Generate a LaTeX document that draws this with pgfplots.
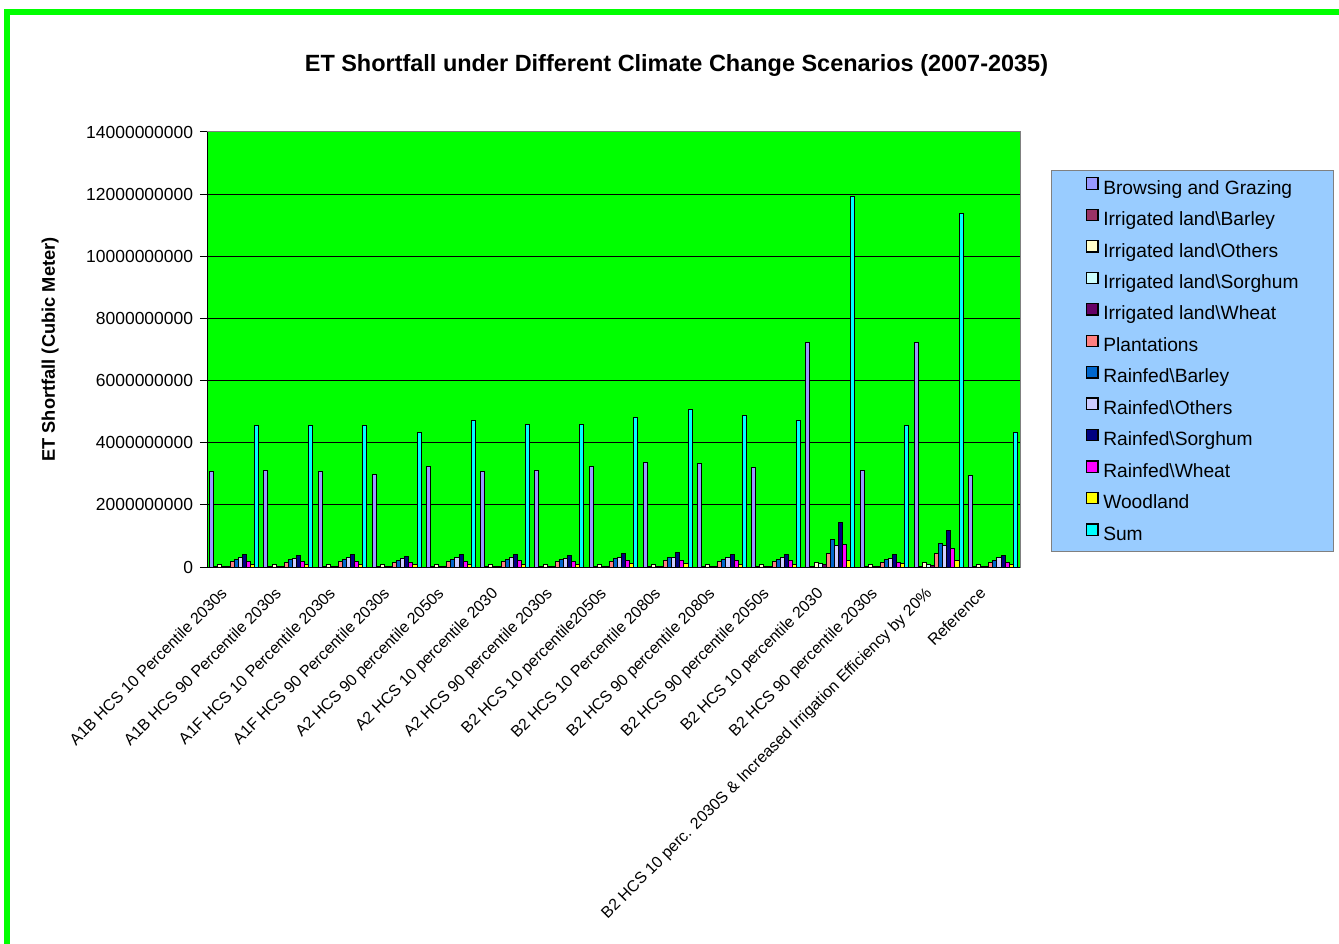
\documentclass[border=0pt]{standalone}
\usepackage{pgfplots}
\pgfplotsset{compat=1.18}
\usepackage{pgfplotstable}
\usepackage{fontspec}
\setmainfont{Liberation Sans}

\definecolor{cBG}{HTML}{9999FF}
\definecolor{cIB}{HTML}{993366}
\definecolor{cIO}{HTML}{FFFFCC}
\definecolor{cIS}{HTML}{CCFFFF}
\definecolor{cIW}{HTML}{660066}
\definecolor{cPL}{HTML}{FF8080}
\definecolor{cRB}{HTML}{0066CC}
\definecolor{cRO}{HTML}{CCCCFF}
\definecolor{cRS}{HTML}{000080}
\definecolor{cRW}{HTML}{FF00FF}
\definecolor{cWL}{HTML}{FFFF00}
\definecolor{cSU}{HTML}{00FFFF}
\definecolor{plotgreen}{HTML}{00FF00}
\definecolor{legblue}{HTML}{99CCFF}

% values in cubic metres
\pgfplotstableread{
x  BG      IB     IO      IS     IW     PL      RB      RO      RS      RW      WL      SU
0  3.07e9  0.02e9 0.07e9  0.01e9 0.01e9 0.18e9  0.24e9  0.29e9  0.39e9  0.19e9  0.09e9  4.56e9
1  3.12e9  0.02e9 0.07e9  0.01e9 0.01e9 0.16e9  0.24e9  0.28e9  0.38e9  0.18e9  0.09e9  4.56e9
2  3.06e9  0.02e9 0.07e9  0.01e9 0.01e9 0.18e9  0.24e9  0.30e9  0.40e9  0.18e9  0.09e9  4.56e9
3  2.99e9  0.02e9 0.07e9  0.01e9 0.01e9 0.16e9  0.21e9  0.27e9  0.34e9  0.16e9  0.08e9  4.32e9
4  3.23e9  0.02e9 0.07e9  0.01e9 0.01e9 0.18e9  0.24e9  0.29e9  0.39e9  0.19e9  0.09e9  4.72e9
5  3.06e9  0.02e9 0.07e9  0.01e9 0.01e9 0.18e9  0.25e9  0.29e9  0.40e9  0.20e9  0.09e9  4.58e9
6  3.12e9  0.02e9 0.07e9  0.01e9 0.01e9 0.18e9  0.24e9  0.28e9  0.38e9  0.19e9  0.08e9  4.58e9
7  3.22e9  0.02e9 0.07e9  0.01e9 0.01e9 0.18e9  0.27e9  0.29e9  0.43e9  0.21e9  0.10e9  4.81e9
8  3.35e9  0.02e9 0.09e9  0.01e9 0.01e9 0.21e9  0.29e9  0.31e9  0.46e9  0.22e9  0.11e9  5.08e9
9  3.32e9  0.02e9 0.07e9  0.01e9 0.01e9 0.19e9  0.25e9  0.29e9  0.41e9  0.21e9  0.09e9  4.87e9
10 3.20e9  0.02e9 0.07e9  0.01e9 0.01e9 0.19e9  0.25e9  0.29e9  0.40e9  0.20e9  0.09e9  4.73e9
11 7.21e9  0.03e9 0.16e9  0.11e9 0.08e9 0.43e9  0.88e9  0.68e9  1.43e9  0.72e9  0.21e9  11.94e9
12 3.12e9  0.02e9 0.07e9  0.01e9 0.01e9 0.16e9  0.24e9  0.27e9  0.39e9  0.16e9  0.10e9  4.55e9
13 7.22e9  0.03e9 0.16e9  0.09e9 0.05e9 0.43e9  0.76e9  0.68e9  1.18e9  0.58e9  0.21e9  11.39e9
14 2.96e9  0.02e9 0.07e9  0.01e9 0.01e9 0.16e9  0.21e9  0.30e9  0.37e9  0.16e9  0.07e9  4.34e9
}\datatable

\begin{document}
\begin{tikzpicture}
\useasboundingbox (0pt,0pt) rectangle (1004.25pt,-708pt);
% green outer border (left and top)
\fill[plotgreen] (3pt,-708pt) rectangle (7.5pt,-6.75pt);
\fill[plotgreen] (3pt,-6.75pt) rectangle (1004.25pt,-11.25pt);

\begin{axis}[
  at={(155.25pt,-425.25pt)}, anchor=south west,
  scale only axis, width=609.75pt, height=326.25pt,
  xmin=-0.5, xmax=14.5, ymin=0, ymax=14e9,
  scaled y ticks=false,
  ybar=0pt, bar width=3.05pt,
  axis background/.style={fill=plotgreen},
  axis line style={draw=gray, line width=0.75pt},
  ymajorgrids, major grid style={black, line width=0.75pt},
  ytick={0,2e9,4e9,6e9,8e9,10e9,12e9,14e9},
  yticklabels={0,2000000000,4000000000,6000000000,8000000000,10000000000,12000000000,14000000000},
  yticklabel style={font=\fontsize{13.1pt}{15pt}\selectfont, inner sep=0pt, xshift=-5pt},
  ytick style={black, line width=0.75pt},
  tick align=outside, major tick length=5.25pt, tick pos=left,
  xtick={0,...,14},
  xtick style={draw=none},
  minor xtick={-0.5,0.5,...,14.5},
  minor tick length=5.25pt,
  minor x tick style={black, line width=0.75pt},
  xticklabels={A1B HCS 10 Percentile 2030s, A1B HCS 90 Percentile 2030s, A1F HCS 10 Percentile 2030s, A1F HCS 90 Percentile 2030s, A2 HCS 90 percentile 2050s, A2 HCS 10 percentile 2030, A2 HCS 90 percentile 2030s, B2 HCS 10 percentile2050s, B2 HCS 10 Percentile 2080s, B2 HCS 90 percentile 2080s, B2 HCS 90 percentile 2050s, B2 HCS 10 percentile 2030, B2 HCS 90 percentile 2030s, B2 HCS 10 perc. 2030S \& Increased Irrigation Efficiency by 20\%, Reference},
  xticklabel style={font=\fontsize{12pt}{14pt}\selectfont, inner sep=0pt, xshift=-10.9pt, yshift=-9pt, rotate=45, anchor=north east},
  title={\textbf{ET Shortfall under Different Climate Change Scenarios (2007-2035)}},
  title style={font=\fontsize{17.6pt}{20pt}\selectfont, at={(rel axis cs:0.5775,1.1356)}, anchor=center, inner sep=0pt},
  ylabel={\textbf{ET Shortfall (Cubic Meter)}},
  ylabel style={font=\fontsize{13.7pt}{16pt}\selectfont, at={(rel axis cs:-0.193,0.5)}, anchor=center, inner sep=0pt},
  every axis plot/.append style={draw=black, line width=0.75pt},
  legend cell align=left,
  legend image code/.code={\draw[#1, draw=black, line width=0.9pt] (0pt,0pt) rectangle (8.5pt,8.5pt);},
  legend style={at={(1.038,0.9126)}, anchor=north west, fill=legblue, draw=gray, line width=0.75pt,
    font=\fontsize{14.4pt}{16pt}\selectfont, inner xsep=26pt, inner ysep=5pt, row sep=7.4pt,
    nodes={inner sep=0pt, text height=11pt, text depth=3.5pt},
    /tikz/every odd column/.append style={column sep=3.5pt}},
]
\addplot[fill=cBG] table[x=x,y=BG]{\datatable};
\addplot[fill=cIB] table[x=x,y=IB]{\datatable};
\addplot[fill=cIO] table[x=x,y=IO]{\datatable};
\addplot[fill=cIS] table[x=x,y=IS]{\datatable};
\addplot[fill=cIW] table[x=x,y=IW]{\datatable};
\addplot[fill=cPL] table[x=x,y=PL]{\datatable};
\addplot[fill=cRB] table[x=x,y=RB]{\datatable};
\addplot[fill=cRO] table[x=x,y=RO]{\datatable};
\addplot[fill=cRS] table[x=x,y=RS]{\datatable};
\addplot[fill=cRW] table[x=x,y=RW]{\datatable};
\addplot[fill=cWL] table[x=x,y=WL]{\datatable};
\addplot[fill=cSU] table[x=x,y=SU]{\datatable};
\legend{Browsing and Grazing, Irrigated land\textbackslash Barley, Irrigated land\textbackslash Others, Irrigated land\textbackslash Sorghum, Irrigated land\textbackslash Wheat, Plantations, Rainfed\textbackslash Barley, Rainfed\textbackslash Others, Rainfed\textbackslash Sorghum, Rainfed\textbackslash Wheat, Woodland, Sum}
\draw[black, line width=0.75pt] (rel axis cs:0,0) -- (rel axis cs:0,1);
\draw[black, line width=0.75pt] (rel axis cs:0,0) -- (rel axis cs:1,0);
\end{axis}
\end{tikzpicture}
\end{document}
